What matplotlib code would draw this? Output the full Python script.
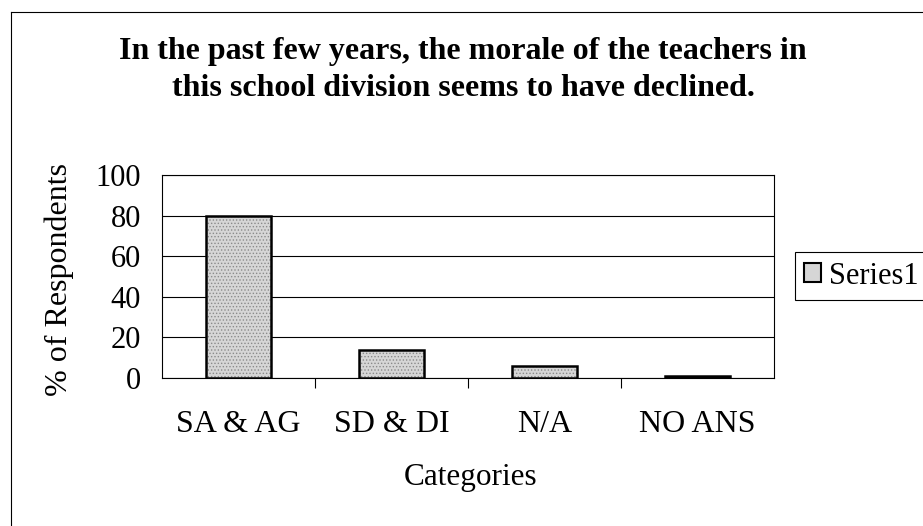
import numpy as np
import matplotlib
matplotlib.use("Agg")
import matplotlib.pyplot as plt
from matplotlib.patches import Patch
from matplotlib.lines import Line2D

# data
categories = ["SA & AG", "SD & DI", "N/A", "NO ANS"]
values = [80, 14, 6, 1]
yticks = [0, 20, 40, 60, 80, 100]
title_lines = ["In the past few years, the morale of the teachers in",
               "this school division seems to have declined."]

plt.rcParams['font.family'] = ['Liberation Serif', 'DejaVu Serif']
plt.rcParams['hatch.linewidth'] = 0.6

W, H = 923, 526
fig = plt.figure(figsize=(W / 100, H / 100), dpi=100)
ax = fig.add_axes([162 / W, 1 - 378 / H, (774 - 162) / W, (378 - 175) / H])

x = np.arange(len(categories))
# textured fill, then the black outline on top
ax.bar(x, values, width=0.42, color='#d6d6d6', hatch='.....',
       edgecolor='#8a8a8a', linewidth=0, zorder=2)
ax.bar(x, values, width=0.42, fill=False, edgecolor='black',
       linewidth=1.8, zorder=3)

ax.set_xlim(-0.5, len(categories) - 0.5)
ax.set_ylim(0, 100)
ax.set_yticks(yticks)
ax.set_yticklabels([str(t) for t in yticks], fontsize=22)
ax.tick_params(axis='y', length=0, pad=15)
ax.set_xticks(x)
ax.set_xticklabels(categories, fontsize=23)
ax.tick_params(axis='x', which='major', length=0, pad=23)
ax.set_xticks(np.arange(len(categories) - 1) + 0.5, minor=True)
ax.tick_params(axis='x', which='minor', length=7, width=0.8, direction='out')
ax.yaxis.grid(True, color='black', linewidth=0.8, zorder=1)
ax.set_axisbelow(True)
for s in ax.spines.values():
    s.set_linewidth(0.8)

fig.text(463 / W, 1 - 52 / H, title_lines[0], ha='center', va='center',
         fontsize=23, fontweight='bold')
fig.text(463 / W, 1 - 89 / H, title_lines[1], ha='center', va='center',
         fontsize=23, fontweight='bold')
fig.text(471 / W, 1 - 478 / H, "Categories", ha='center', va='center', fontsize=22.5)
fig.text(59 / W, 1 - 280 / H, "% of Respondents", ha='center', va='center',
         rotation=90, fontsize=23)

handle = Patch(facecolor='#d6d6d6', edgecolor='black', linewidth=1.5)
leg = fig.legend([handle], ["Series1"], loc='center left',
                 bbox_to_anchor=(795 / W, 1 - 276 / H), fontsize=22,
                 fancybox=False, framealpha=1, edgecolor='black',
                 handlelength=0.55, handleheight=0.55, handletextpad=0.25,
                 borderpad=0.3, borderaxespad=0)
leg.get_frame().set_linewidth(0.8)

# outer chart frame (only left and top visible in the crop)
fig.add_artist(Line2D([11 / W, 11 / W], [0, 1 - 12 / H], color='black', linewidth=0.8))
fig.add_artist(Line2D([11 / W, 1], [1 - 12 / H, 1 - 12 / H], color='black', linewidth=0.8))

fig.savefig("out.png", dpi=100)
